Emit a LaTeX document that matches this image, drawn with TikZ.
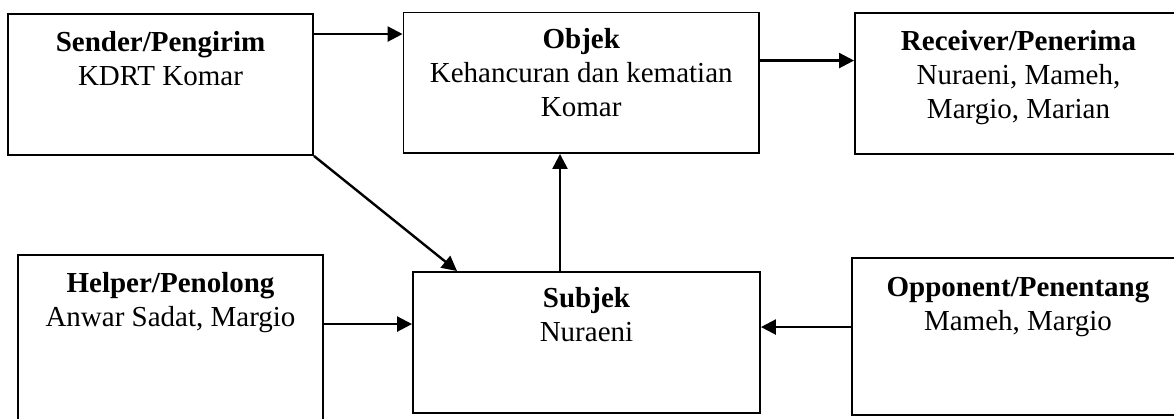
\documentclass[tikz,border=0pt]{standalone}
\usepackage{fontspec}
\setmainfont{Liberation Serif}
\usetikzlibrary{arrows.meta}
\tikzset{
  actbox/.style={draw, line width=1.9pt, rectangle, inner sep=0pt},
  acttext/.style={anchor=north, inner sep=0pt, align=center,
    font=\fontsize{29}{34}\selectfont},
  arr/.style={line width=2.4pt, -{Triangle[length=15pt,width=15pt]}}
}
\newcommand{\firstline}{\rule{0pt}{38pt}}
\begin{document}
\begin{tikzpicture}[x=1pt, y=-1pt]
  \useasboundingbox (0,0) rectangle (1174,419);
  \clip (0,0) rectangle (1174,419);

  % actant boxes
  \node[actbox, minimum width=305pt, minimum height=141pt] (sender) at (160.5,84.5) {};
  \node[actbox, minimum width=355.5pt, minimum height=140.5pt] (objek) at (581.25,82.75) {};
  \node[actbox, minimum width=327pt, minimum height=141pt] (receiver) at (1018.5,83.5) {};
  \node[actbox, minimum width=305pt, minimum height=175pt] (helper) at (170.5,342.5) {};
  \node[actbox, minimum width=347pt, minimum height=141pt] (subjek) at (586.5,342.5) {};
  \node[actbox, minimum width=332pt, minimum height=157pt] (opponent) at (1018,336.5) {};

  % box texts
  \node[acttext] (senderT) at (sender.north) {\firstline\textbf{Sender/Pengirim}\\KDRT Komar};
  \node[acttext] (objekT) at ([yshift=1.5pt]objek.north) {\firstline\textbf{Objek}\\Kehancuran dan kematian\\Komar};
  \node[acttext] (receiverT) at (receiver.north) {\firstline\textbf{Receiver/Penerima}\\Nuraeni, Mameh,\\Margio, Marian};
  \node[acttext] (helperT) at (helper.north) {\firstline\textbf{Helper/Penolong}\\Anwar Sadat, Margio};
  \node[acttext] (subjekT) at ([yshift=2pt]subjek.north) {\firstline\textbf{Subjek}\\Nuraeni};
  \node[acttext] (opponentT) at ([yshift=-1pt]opponent.north) {\firstline\textbf{Opponent/Penentang}\\Mameh, Margio};

  % connectors
  \coordinate (s1) at ([yshift=-21pt]sender.north east);
  \draw[arr] (s1) -- (s1 -| objek.west);
  \coordinate (o1) at ([yshift=-49pt]objek.north east);
  \draw[arr] (o1) -- (o1 -| receiver.west);
  \draw[arr] (sender.south east) -- ([xshift=45pt]subjek.north west);
  \coordinate (u1) at ([xshift=-26.5pt]subjek.north);
  \draw[arr] (u1) -- (u1 |- objek.south);
  \coordinate (h1) at ([yshift=-70pt]helper.north east);
  \draw[arr] (h1) -- (h1 -| subjek.west);
  \coordinate (p1) at ([yshift=-70pt]opponent.north west);
  \draw[arr] (p1) -- (p1 -| subjek.east);
\end{tikzpicture}
\end{document}
